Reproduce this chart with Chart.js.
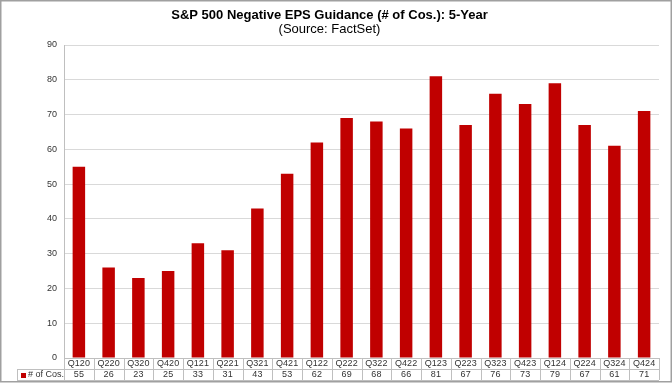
<!DOCTYPE html>
<html>
<head>
<meta charset="utf-8">
<script src="https://cdn.jsdelivr.net/npm/chart.js@4/dist/chart.umd.min.js"></script>
<style>
    body { margin: 0; background: #fff; }
    #wrap { width: 672px; height: 384px; }
</style>
</head>
<body>
<div id="wrap"><canvas id="epsChart" width="672" height="384"></canvas></div>
<script>
// quarter labels and number of companies issuing negative EPS guidance
const quarters = ['Q120', 'Q220', 'Q320', 'Q420', 'Q121', 'Q221', 'Q321', 'Q421', 'Q122', 'Q222',
                  'Q322', 'Q422', 'Q123', 'Q223', 'Q323', 'Q423', 'Q124', 'Q224', 'Q324', 'Q424'];
const negativeCount = [55, 26, 23, 25, 33, 31, 43, 53, 62, 69, 68, 66, 81, 67, 76, 73, 79, 67, 61, 71];
const seriesName = '# of Cos.';
const yMax = 90;
const yStep = 10;

const barColor = '#C00000';
const gridColor = '#D9D9D9';
const textColor = '#333333';

// draws the excel style data table under the plot, using the x scale for columns
const dataTable = {
    id: 'dataTable',
    afterDraw(chart) {
        const ctx = chart.ctx;
        const x = chart.scales.x;
        const area = chart.chartArea;
        const top = Math.round(area.bottom);
        const mid = top + 11;
        const bottom = top + 22;
        const legendLeft = 17;
        const half = (x.getPixelForValue(1) - x.getPixelForValue(0)) / 2;

        ctx.save();
        ctx.strokeStyle = '#BFBFBF';
        ctx.lineWidth = 1;
        ctx.beginPath();
        ctx.moveTo(area.left, top + 0.5);
        ctx.lineTo(area.right, top + 0.5);
        ctx.moveTo(legendLeft, mid + 0.5);
        ctx.lineTo(area.right, mid + 0.5);
        ctx.moveTo(legendLeft, bottom + 0.5);
        ctx.lineTo(area.right, bottom + 0.5);
        ctx.moveTo(legendLeft + 0.5, mid);
        ctx.lineTo(legendLeft + 0.5, bottom);
        for (let i = 0; i <= quarters.length; i++) {
            const px = Math.round(x.getPixelForValue(i) - half) + 0.5;
            ctx.moveTo(px, top);
            ctx.lineTo(px, bottom);
        }
        ctx.stroke();

        ctx.fillStyle = textColor;
        ctx.font = '9px "Liberation Sans", Arial, sans-serif';
        ctx.textAlign = 'center';
        ctx.textBaseline = 'middle';
        quarters.forEach((q, i) => {
            const px = x.getPixelForValue(i);
            ctx.fillText(q, px, top + 6);
            ctx.fillText(String(negativeCount[i]), px, mid + 6);
        });

        // legend key in the first cell
        ctx.fillStyle = barColor;
        ctx.fillRect(legendLeft + 4, mid + 4, 5, 5);
        ctx.fillStyle = textColor;
        ctx.textAlign = 'left';
        ctx.fillText(seriesName, legendLeft + 11, mid + 6);

        // outer frame of the picture
        ctx.strokeStyle = '#A0A0A0';
        ctx.lineWidth = 1.5;
        ctx.strokeRect(0.75, 0.75, 670.5, 381);
        ctx.restore();
    }
};

const ctx = document.getElementById('epsChart').getContext('2d');
new Chart(ctx, {
    type: 'bar',
    data: {
        labels: quarters,
        datasets: [{
            label: seriesName,
            data: negativeCount,
            backgroundColor: barColor,
            borderWidth: 0,
            categoryPercentage: 1,
            barPercentage: 0.42
        }]
    },
    options: {
        responsive: false,
        animation: false,
        layout: {
            padding: { left: 0, right: 13, top: 0, bottom: 18 }
        },
        plugins: {
            legend: { display: false },
            tooltip: { enabled: false },
            title: {
                display: true,
                text: 'S&P 500 Negative EPS Guidance (# of Cos.): 5-Year',
                color: '#000',
                font: { family: '"Liberation Sans", Arial, sans-serif', size: 13, weight: 'bold', lineHeight: 1 },
                padding: { top: 9, bottom: 0 }
            },
            subtitle: {
                display: true,
                text: '(Source: FactSet)',
                color: '#000',
                font: { family: '"Liberation Sans", Arial, sans-serif', size: 13, lineHeight: 1 },
                padding: { top: 1, bottom: 9 }
            }
        },
        scales: {
            x: {
                grid: { display: false },
                border: { display: false },
                ticks: { display: false }
            },
            y: {
                min: 0,
                max: yMax,
                afterFit(scale) { scale.width = 64; },
                grid: { color: gridColor, drawTicks: false },
                border: { color: '#BFBFBF' },
                ticks: {
                    stepSize: yStep,
                    padding: 7,
                    color: textColor,
                    font: { family: '"Liberation Sans", Arial, sans-serif', size: 9 }
                }
            }
        }
    },
    plugins: [dataTable]
});
</script>
</body>
</html>
